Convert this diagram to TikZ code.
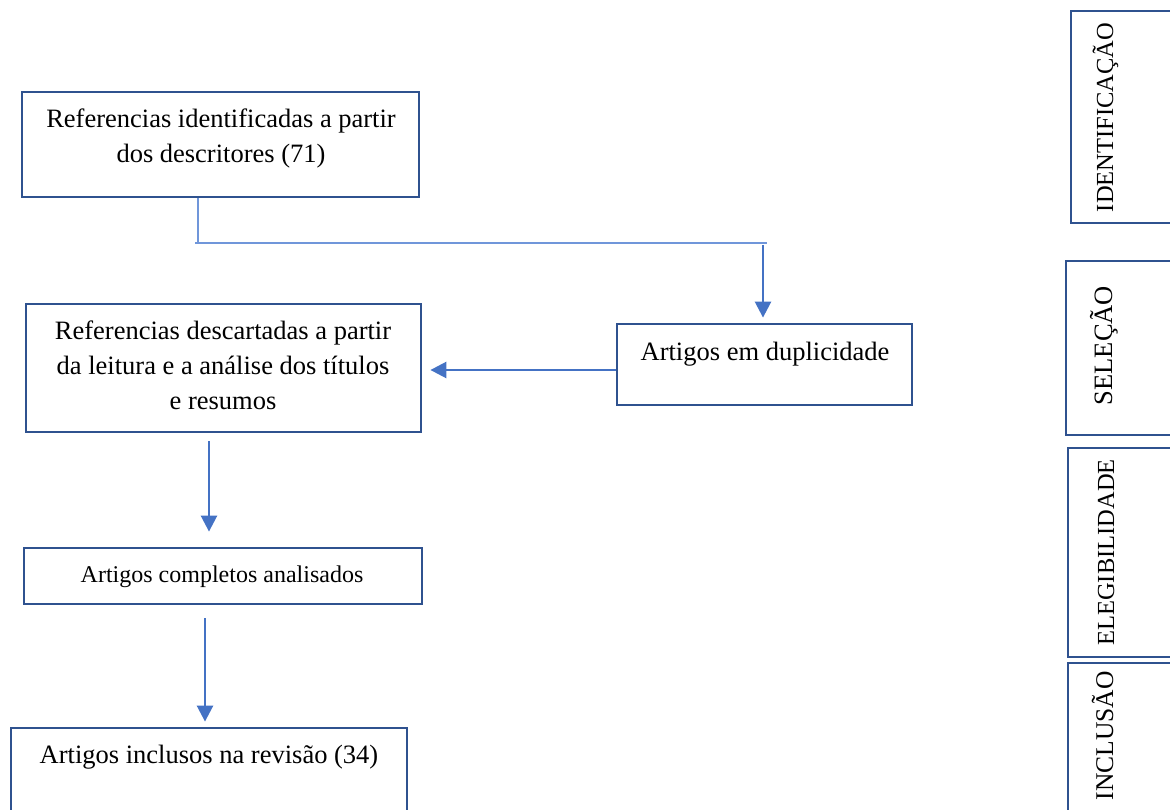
\documentclass[tikz,border=0pt]{standalone}
\usepackage{fontspec}
\setmainfont{Liberation Serif}
\usetikzlibrary{arrows.meta}
\definecolor{boxblue}{HTML}{2F528F}
\definecolor{arrblue}{HTML}{4472C4}
\definecolor{lineblue}{HTML}{7096DA}
\tikzset{
  box/.style={draw=boxblue, line width=2.8pt, fill=white, inner sep=0pt, minimum width=#1},
  box/.default=10pt,
  txt/.style={inner sep=0pt, align=center, font=\fontsize{26.5}{35}\selectfont},
  small/.style={inner sep=0pt, font=\fontsize{24}{30}\selectfont},
  lbl/.style={inner sep=0pt, rotate=90, anchor=base, font=\fontsize{24.5}{30}\selectfont},
  arr/.style={draw=arrblue, line width=2.6pt, -{Triangle[width=16pt,length=16pt]}},
  thin/.style={draw=lineblue, line width=1.6pt}
}
\begin{document}
\begin{tikzpicture}[x=1pt,y=-1pt]
\useasboundingbox (0,0) rectangle (1170,810);
\clip (0,0) rectangle (1170,810);
% left column boxes
\node[box=397pt, minimum height=105pt] (b1) at (220.5,144.5) {};
\node[box=395pt, minimum height=128pt] (b2) at (223.5,368) {};
\node[box=295pt, minimum height=81pt] (dup) at (764.5,364.5) {};
\node[box=398pt, minimum height=56pt] (b3) at (223,576) {};
\node[box=396pt, minimum height=102pt] (b4) at (209,779) {};
% texts (base = last line's baseline)
\node[txt, anchor=base] (t1) at (221,163) {Referencias identificadas a partir\\dos descritores (71)};
\node[txt, anchor=base] (t2) at (223,409) {Referencias descartadas a partir\\da leitura e a análise dos títulos\\e resumos};
\node[txt, anchor=base] (tdup) at (765,360) {Artigos em duplicidade};
\node[small, anchor=base] (t3) at (222,582) {Artigos completos analisados};
\node[txt, anchor=base] (t4) at (209,763) {Artigos inclusos na revisão (34)};
% right stage boxes
\node[box=120pt, minimum height=212pt] (s1) at (1131,117) {};
\node[box=120pt, minimum height=174pt] (s2) at (1126,348) {};
\node[box=120pt, minimum height=209pt] (s3) at (1128,552.5) {};
\node[box=120pt, minimum height=170pt] (s4) at (1128,748) {};
\node[lbl] (l1) at (1113,117.5) {IDENTIFICAÇÃO};
\node[lbl, font=\fontsize{26.5}{30}\selectfont] (l2) at (1112,345.5) {SELEÇÃO};
\node[lbl] (l3) at (1114,552.5) {ELEGIBILIDADE};
\node[lbl, font=\fontsize{25.5}{30}\selectfont] (l4) at (1113,736) {INCLUSÃO};
% connectors
\coordinate (c1) at (198,243);
\coordinate (c0) at (195,243);
\coordinate (c2) at (767,243);
\coordinate (c3) at (763,245);
\draw[thin] ([xshift=-22.5pt]b1.south) -- (c1);
\draw[thin] (c0) -- (c2);
\draw[arr, shorten >=5pt] (c3) -- ([xshift=-1.5pt]dup.north);
\draw[arr, shorten >=8pt] ([yshift=-5.5pt]dup.west) -- ([yshift=-2pt]b2.east);
\draw[arr, shorten <=8pt, shorten >=15pt] ([xshift=-14.5pt]b2.south) -- ([xshift=-14pt]b3.north);
\draw[arr, shorten <=13pt, shorten >=5pt] ([xshift=-18pt]b3.south) -- ([xshift=-4pt]b4.north);
\end{tikzpicture}
\end{document}
